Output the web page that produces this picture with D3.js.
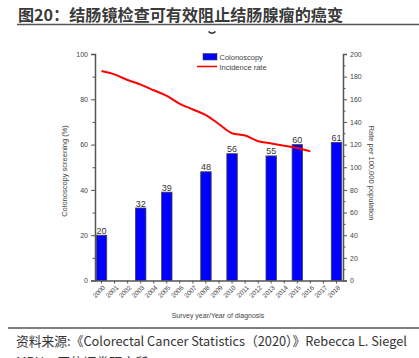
<!DOCTYPE html>
<html>
<head>
<meta charset="utf-8">
<script src="https://cdn.jsdelivr.net/npm/d3@7"></script>
<style>
  body { margin: 0; background: #fff; }
  svg { display: block; }
</style>
</head>
<body>
<div id="chart"></div>
<script>
const years = ['2000', '2001', '2002', '2003', '2004', '2005', '2006', '2007', '2008', '2009',
  '2010', '2011', '2012', '2013', '2014', '2015', '2016', '2017', '2018'];
const screenYears = ['2000', '2003', '2005', '2008', '2010', '2013', '2015', '2018'];
const screenValues = [20, 32, 39, 48, 56, 55, 60, 61];
const incidenceYears = ['2000', '2001', '2002', '2003', '2004', '2005', '2006', '2007', '2008',
  '2009', '2010', '2011', '2012', '2013', '2014', '2015', '2016'];
const incidenceValues = [185, 182, 177, 173, 168, 163, 156, 151, 146, 138, 130, 128, 123, 121, 119, 117, 114];
const leftTicks = [0, 20, 40, 60, 80, 100];
const rightTicks = [0, 20, 40, 60, 80, 100, 120, 140, 160, 180, 200];

const width = 419;
const height = 358;
const chartFont = '"Liberation Sans", Arial, sans-serif';
const cjkFont = '"Noto Sans CJK SC", "Noto Sans", sans-serif';
const axisColor = '#555';

const svg = d3.select('#chart').append('svg').attr('width', width).attr('height', height);

// title block
svg.append('text')
  .attr('x', 18).attr('y', 21)
  .style('font-family', cjkFont).style('font-size', '16px').style('font-weight', 700)
  .attr('fill', '#3a3a3a')
  .attr('textLength', 325).attr('lengthAdjust', 'spacingAndGlyphs')
  .text('图20：结肠镜检查可有效阻止结肠腺瘤的癌变');
svg.append('line').attr('x1', 17).attr('x2', width).attr('y1', 24.5).attr('y2', 24.5)
  .attr('stroke', '#555').attr('stroke-width', 1.6);
svg.append('path').attr('d', 'M208.5,31.5 Q212,35 215.5,31.5')
  .attr('fill', 'none').attr('stroke', '#333').attr('stroke-width', 1.6);

const x = d3.scaleBand().domain(years).range([95, 343]).paddingInner(0.2).paddingOuter(0.1);
const yL = d3.scaleLinear().domain([0, 100]).range([280.5, 54]);
const yR = d3.scaleLinear().domain([0, 200]).range([280.5, 54]);

// bars
const bars = svg.append('g');
screenYears.forEach((yr, i) => {
  bars.append('rect')
    .attr('x', x(yr)).attr('y', yL(screenValues[i]))
    .attr('width', x.bandwidth()).attr('height', yL(0) - yL(screenValues[i]))
    .attr('fill', '#0000ff').attr('stroke', '#444').attr('stroke-width', 0.8);
  bars.append('text')
    .attr('x', x(yr) + x.bandwidth() / 2).attr('y', yL(screenValues[i]) - 1.5)
    .attr('text-anchor', 'middle')
    .style('font-family', chartFont).style('font-size', '9px').attr('fill', '#333')
    .text(screenValues[i]);
});

// incidence line
const line = d3.line()
  .x((d, i) => x(incidenceYears[i]) + x.bandwidth() / 2)
  .y((d) => yR(d))
  .curve(d3.curveMonotoneX);
svg.append('path').datum(incidenceValues).attr('d', line)
  .attr('fill', 'none').attr('stroke', '#ff0000').attr('stroke-width', 2);

// left axis
const leftAxis = svg.append('g').attr('transform', 'translate(95,0)')
  .call(d3.axisLeft(yL).tickValues(leftTicks).tickSize(4).tickPadding(3));
svg.append('g').attr('transform', 'translate(95,0)')
  .call(d3.axisLeft(yL).tickValues([10, 30, 50, 70, 90]).tickSize(2.5).tickFormat(''))
  .call((g) => g.select('.domain').remove());

// right axis
const rightAxis = svg.append('g').attr('transform', 'translate(343,0)')
  .call(d3.axisRight(yR).tickValues(rightTicks).tickSize(4).tickPadding(3));
svg.append('g').attr('transform', 'translate(343,0)')
  .call(d3.axisRight(yR).tickValues([10, 30, 50, 70, 90, 110, 130, 150, 170, 190]).tickSize(2.5).tickFormat(''))
  .call((g) => g.select('.domain').remove());

// bottom axis
const bottomAxis = svg.append('g').attr('transform', 'translate(0,280.5)')
  .call(d3.axisBottom(x).tickSize(3).tickSizeOuter(0));
bottomAxis.selectAll('text')
  .attr('x', 0).attr('y', 0).attr('dy', '0.35em')
  .attr('text-anchor', 'end')
  .attr('transform', 'translate(2.5,6) rotate(-45)');

[leftAxis, rightAxis, bottomAxis].forEach((g) => {
  g.selectAll('text').style('font-family', chartFont).style('font-size', '7px').attr('fill', '#444');
  g.select('.domain').attr('stroke', axisColor).attr('stroke-width', 1.5);
});
bottomAxis.selectAll('text').style('font-size', '6.5px');
svg.selectAll('.tick line').attr('stroke', axisColor);

// axis titles
svg.append('text')
  .attr('transform', 'translate(67,171) rotate(-90)')
  .attr('text-anchor', 'middle')
  .style('font-family', chartFont).style('font-size', '7.5px').attr('fill', '#444')
  .text('Colonoscopy screening (%)');
svg.append('text')
  .attr('transform', 'translate(369,173) rotate(90)')
  .attr('text-anchor', 'middle')
  .style('font-family', chartFont).style('font-size', '7.5px').attr('fill', '#444')
  .text('Rate per 100,000 population');
svg.append('text')
  .attr('x', 218).attr('y', 318)
  .attr('text-anchor', 'middle')
  .style('font-family', chartFont).style('font-size', '7px').attr('fill', '#444')
  .text('Survey year/Year of diagnosis');

// legend
const legend = svg.append('g');
legend.append('rect').attr('x', 203).attr('y', 53.5).attr('width', 14).attr('height', 6.5)
  .attr('fill', '#0000ff').attr('stroke', '#444').attr('stroke-width', 0.6);
legend.append('text').attr('x', 219.5).attr('y', 59.5)
  .style('font-family', chartFont).style('font-size', '7.5px').attr('fill', '#444')
  .text('Colonoscopy');
legend.append('line').attr('x1', 197).attr('x2', 217).attr('y1', 66.5).attr('y2', 66.5)
  .attr('stroke', '#ff0000').attr('stroke-width', 1.6);
legend.append('text').attr('x', 219.5).attr('y', 69.5)
  .style('font-family', chartFont).style('font-size', '7.5px').attr('fill', '#444')
  .text('Incidence rate');

// source block
svg.append('line').attr('x1', 8).attr('x2', width).attr('y1', 328).attr('y2', 328)
  .attr('stroke', '#555').attr('stroke-width', 1.4);
svg.append('text')
  .attr('x', 16).attr('y', 346)
  .style('font-family', cjkFont).style('font-size', '13px').attr('fill', '#333')
  .attr('textLength', 391).attr('lengthAdjust', 'spacingAndGlyphs')
  .text('资料来源:《Colorectal Cancer Statistics（2020）》Rebecca L. Siegel');
svg.append('text')
  .attr('x', 16).attr('y', 367)
  .style('font-family', cjkFont).style('font-size', '13px').attr('fill', '#333')
  .text('MPH，国信证券研究所');
</script>
</body>
</html>
